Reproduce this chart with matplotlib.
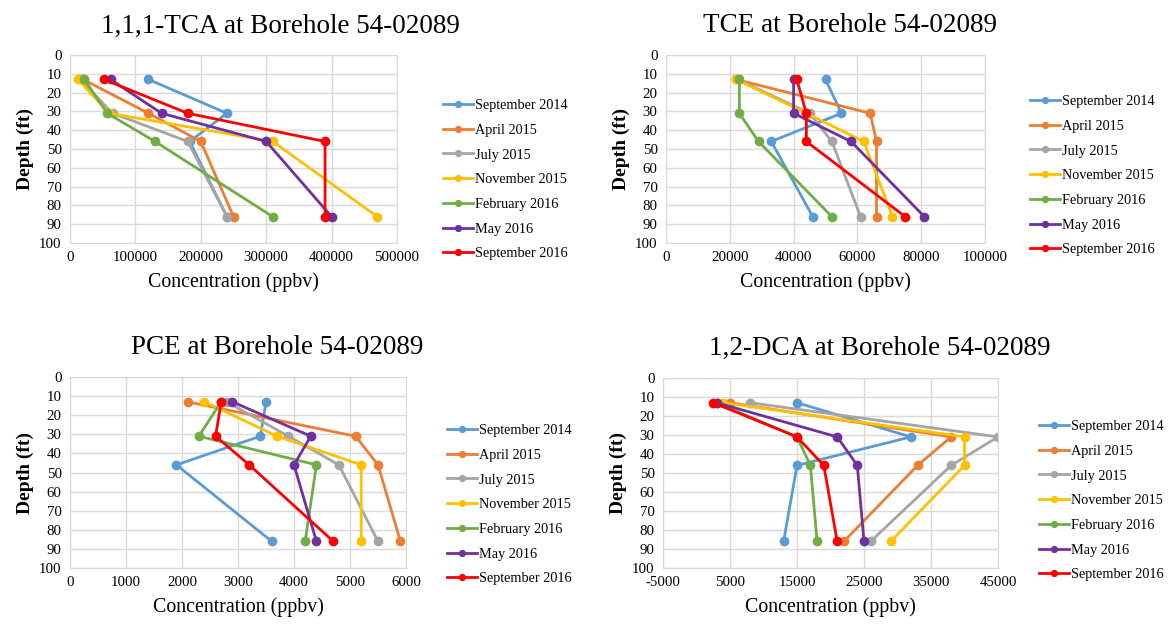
import matplotlib
matplotlib.use("Agg")
import matplotlib.pyplot as plt

# depths of the samples (ft)
depths = [13, 31, 46, 86]

dates = ['September 2014', 'April 2015', 'July 2015', 'November 2015',
         'February 2016', 'May 2016', 'September 2016']
colors = ['#5B9BD5', '#ED7D31', '#A5A5A5', '#FFC000', '#70AD47', '#7030A0', '#FF0000']

# concentrations (ppbv), one row per date, one value per depth
tca = [
    [120000, 240000, 183000, 240000],
    [20000, 120000, 200000, 250000],
    [15000, 65000, 180000, 240000],
    [12000, 60000, 310000, 470000],
    [22000, 57000, 130000, 310000],
    [62000, 140000, 300000, 400000],
    [52000, 180000, 390000, 390000],
]
tce = [
    [50000, 55000, 33000, 46000],
    [22000, 64000, 66000, 66000],
    [22500, 45000, 52000, 61000],
    [22000, 44000, 62000, 71000],
    [23000, 23000, 29000, 52000],
    [40000, 40000, 58000, 81000],
    [41000, 44000, 44000, 75000],
]
pce = [
    [3500, 3400, 1900, 3600],
    [2100, 5100, 5500, 5900],
    [2800, 3900, 4800, 5500],
    [2400, 3700, 5200, 5200],
    [2700, 2300, 4400, 4200],
    [2900, 4300, 4000, 4400],
    [2700, 2600, 3200, 4700],
]
dca = [
    [15000, 32000, 15000, 13000],
    [5000, 38000, 33000, 22000],
    [8000, 45000, 38000, 26000],
    [4000, 40000, 40000, 29000],
    [3000, 15000, 17000, 18000],
    [3000, 21000, 24000, 25000],
    [2500, 15000, 19000, 21000],
]

# title, data, x range, x ticks, axes box (px), legend anchor (px), title centre (px)
panels = [
    ('1,1,1-TCA at Borehole 54-02089', tca, (0, 500000), list(range(0, 500001, 100000)),
     (70, 55, 397, 243), (443, 99), (280, 26)),
    ('TCE at Borehole 54-02089', tce, (0, 100000), list(range(0, 100001, 20000)),
     (666, 55, 985, 243), (1030, 95), (850, 26)),
    ('PCE at Borehole 54-02089', pce, (0, 6000), list(range(0, 6001, 1000)),
     (70, 377, 406, 568), (447, 424), (277, 348)),
    ('1,2-DCA at Borehole 54-02089', dca, (-5000, 45000), list(range(-5000, 45001, 10000)),
     (663, 378, 998, 568), (1039, 420), (880, 348)),
]

W, H = 1168, 624
plt.rcParams['font.family'] = 'Liberation Serif'
plt.rcParams['axes.unicode_minus'] = False
fig = plt.figure(figsize=(W / 100, H / 100), dpi=100)

for title, data, xlim, xticks, box, leg, tpos in panels:
    x0, y0, x1, y1 = box
    ax = fig.add_axes([x0 / W, 1 - y1 / H, (x1 - x0) / W, (y1 - y0) / H])
    for vals, lab, c in zip(data, dates, colors):
        ax.plot(vals, depths, color=c, linewidth=2, marker='o', markersize=6, label=lab)
    ax.set_xlim(xlim)
    ax.set_xticks(xticks)
    ax.set_ylim(100, 0)
    ax.set_yticks(range(0, 101, 10))
    ax.grid(True, color='#D9D9D9', linewidth=1)
    ax.set_axisbelow(True)
    for s in ax.spines.values():
        s.set_color('#D9D9D9')
    ax.tick_params(length=0, labelsize=10.7, pad=6)
    ax.set_xlabel('Concentration (ppbv)', fontsize=14.3, labelpad=6)
    ax.set_ylabel('Depth (ft)', fontsize=14, fontweight='bold', labelpad=4)
    fig.text(tpos[0] / W, 1 - tpos[1] / H, title, fontsize=19.5, ha='center', va='center')
    ax.legend(loc='upper left', bbox_to_anchor=(leg[0] / W, 1 - leg[1] / H),
              bbox_transform=fig.transFigure, frameon=False, fontsize=10.3,
              borderpad=0, borderaxespad=0, handlelength=2.1,
              labelspacing=0.82, handletextpad=0.15, markerscale=0.7)

fig.savefig('out.png', dpi=100)
